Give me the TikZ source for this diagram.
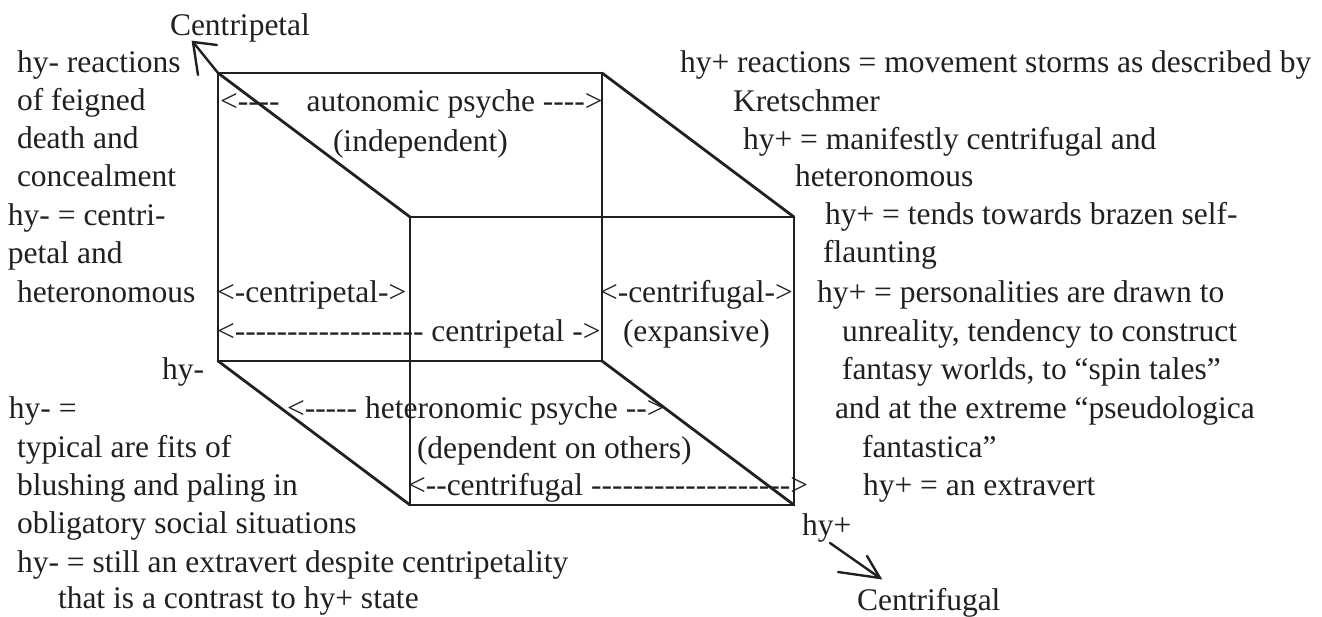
\documentclass[tikz,border=0pt]{standalone}
\usepackage{fontspec}
\setmainfont{Liberation Serif}[Ligatures=TeXOff]
\definecolor{ink}{RGB}{35,31,32}
\tikzset{
  txt/.style={anchor=base west, inner sep=0pt, outer sep=0pt, text=ink,
    font=\fontsize{31.5}{38}\selectfont},
  edge/.style={draw=ink, line width=2.8pt, line cap=round, line join=round},
  pointer/.style={draw=ink, line width=2.4pt, line cap=round, line join=miter}
}
\begin{document}
\begin{tikzpicture}[x=1pt,y=-1pt]
\useasboundingbox (0,0) rectangle (1322,617);
% cube corners
\coordinate (bTL) at (218,73);
\coordinate (bTR) at (602,73);
\coordinate (bBR) at (602,361);
\coordinate (bBL) at (218,361);
\coordinate (fTL) at (410,217);
\coordinate (fTR) at (794,217);
\coordinate (fBR) at (794,505);
\coordinate (fBL) at (410,505);
\draw[edge] (bTL) -- (bTR) -- (bBR) -- (bBL) -- cycle;
\draw[edge] (fTL) -- (fTR) -- (fBR) -- (fBL) -- cycle;
\draw[edge] (bTL) -- (fTL);
\draw[edge] (bTR) -- (fTR);
\draw[edge] (bBL) -- (fBL);
\draw[edge] (bBR) -- (fBR);
% centripetal pointer
\coordinate (cpTip) at (193,42);
\coordinate (cpB1) at (217,45);
\coordinate (cpB2) at (198,75);
\draw[pointer] (bTL) -- (cpTip);
\draw[pointer] (cpB1) -- (cpTip) -- (cpB2);
% centrifugal pointer
\coordinate (cfStart) at (830,543);
\coordinate (cfTip) at (880,578);
\coordinate (cfB1) at (838,572);
\coordinate (cfB2) at (867,556);
\draw[pointer] (cfStart) -- (cfTip);
\draw[pointer] (cfB1) -- (cfTip) -- (cfB2);
% headings
\node[txt] (centripetal) at (170,36) {Centripetal};
\node[txt] (centrifugal) at (857,610) {Centrifugal};
\node[txt] (hyminus) at (162,380) {hy-};
\node[txt] (hyplus) at (802,535) {hy+};
% left column
\node[txt] (l1) at (17,73) {hy- reactions};
\node[txt] (l2) at (17,111) {of feigned};
\node[txt] (l3) at (17,149) {death and};
\node[txt] (l4) at (17,187) {concealment};
\node[txt] (l5) at (8,226) {hy- = centri-};
\node[txt] (l6) at (8,264) {petal and};
\node[txt] (l7) at (17,303) {heteronomous};
\node[txt] (l9) at (9,418) {hy- =};
\node[txt] (l10) at (17,457) {typical are fits of};
\node[txt] (l11) at (17,495) {blushing and paling in};
\node[txt] (l12) at (17,533) {obligatory social situations};
\node[txt] (l13) at (17,572) {hy- = still an extravert despite centripetality};
\node[txt] (l14) at (58,608) {that is a contrast to hy+ state};
% right column
\node[txt] (r1) at (680,73) {hy+ reactions = movement storms as described by};
\node[txt] (r2) at (733,112) {Kretschmer};
\node[txt] (r3) at (743,150) {hy+ = manifestly centrifugal and};
\node[txt] (r4) at (795,187) {heteronomous};
\node[txt] (r5) at (825,225) {hy+ = tends towards brazen self-};
\node[txt] (r6) at (823,263) {flaunting};
\node[txt] (r7) at (817,303) {hy+ = personalities are drawn to};
\node[txt] (r8) at (842,342) {unreality, tendency to construct};
\node[txt] (r9) at (842,380) {fantasy worlds, to “spin tales”};
\node[txt] (r10) at (835,418) {and at the extreme “pseudologica};
\node[txt] (r11) at (862,457) {fantastica”};
\node[txt] (r12) at (863,495) {hy+ = an extravert};
% cube labels
\node[txt] (auto) at (220,112) {<----\hspace{27pt}autonomic psyche ---->};
\node[txt] (indep) at (333,152) {(independent)};
\node[txt] (cp1) at (217,303) {<-centripetal->};
\node[txt] (cp2) at (217,342) {<------------------ centripetal ->};
\node[txt] (cf1) at (600,303) {<-centrifugal->};
\node[txt] (expan) at (623,342) {(expansive)};
\node[txt] (hetero) at (287,418) {<----- heteronomic psyche -->};
\node[txt] (dep) at (417,458) {(dependent on others)};
\node[txt] (cf2) at (408,495) {<--centrifugal ------------------->};
\end{tikzpicture}
\end{document}
